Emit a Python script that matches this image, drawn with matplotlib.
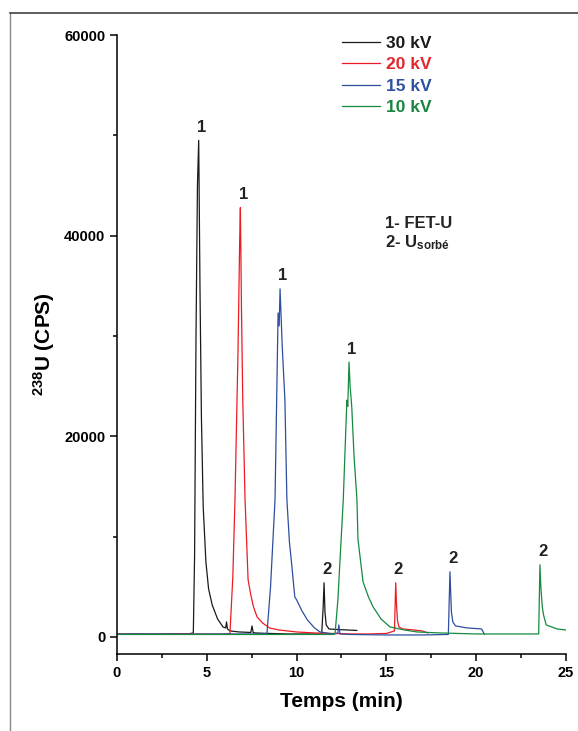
import matplotlib
matplotlib.use("Agg")
import matplotlib.pyplot as plt
from matplotlib.lines import Line2D
from matplotlib.ticker import MultipleLocator

plt.rcParams["font.family"] = ["Liberation Sans", "DejaVu Sans"]
plt.rcParams["font.weight"] = "bold"
plt.rcParams["mathtext.fontset"] = "custom"
plt.rcParams["mathtext.rm"] = "Liberation Sans:bold"
plt.rcParams["mathtext.bf"] = "Liberation Sans:bold"
plt.rcParams["mathtext.it"] = "Liberation Sans:bold"

# ---------------------------
# --- data ---
# ---------------------------
t_30kv = [0, 1, 2, 3, 4, 4.25, 4.32, 4.4, 4.48, 4.55, 4.62, 4.7, 4.8, 4.95, 5.1, 5.3,
          5.6, 5.9, 6.05, 6.1, 6.15, 6.3, 6.8, 7.45, 7.52, 7.58, 7.7, 8.5, 9.5, 10.5,
          11.4, 11.48, 11.53, 11.58, 11.65, 11.8, 12.2, 12.8, 13.35]
v_30kv = [250, 280, 260, 300, 320, 400, 8000, 30000, 45000, 49500, 35000, 22000, 13000,
          7500, 4800, 3200, 1800, 1000, 900, 1500, 800, 600, 500, 450, 1100, 450, 400,
          350, 300, 300, 300, 3000, 5400, 2500, 1200, 800, 750, 700, 650]

t_20kv = [0, 2, 4, 6, 6.29, 6.45, 6.57, 6.74, 6.83, 6.87, 6.93, 7.0, 7.13, 7.3, 7.45,
          7.6, 7.8, 8.1, 8.5, 9.0, 10, 11, 12, 13, 14, 15, 15.45, 15.52, 15.57, 15.62,
          15.7, 15.9, 16.5, 17.0, 17.3]
v_20kv = [300, 300, 300, 280, 350, 6000, 13700, 28600, 39400, 42800, 33000, 24000, 13700,
          5700, 4200, 3000, 2000, 1400, 900, 700, 500, 400, 350, 300, 300, 350, 600, 5400,
          3000, 1600, 1000, 800, 700, 600, 400]

t_15kv = [0, 2, 4, 6, 8, 8.35, 8.55, 8.8, 8.97, 9.03, 9.08, 9.2, 9.35, 9.46, 9.6, 9.74,
          9.82, 9.9, 10.0, 10.3, 10.6, 11.0, 11.3, 12.0, 12.3, 12.35, 12.42, 13, 15, 17,
          18.45, 18.54, 18.62, 18.7, 18.85, 19.5, 20.3, 20.45]
v_15kv = [300, 300, 280, 300, 300, 350, 5000, 13700, 32300, 31000, 34700, 29000, 23600,
          13700, 9500, 7000, 5500, 4000, 3700, 2600, 1700, 900, 500, 300, 400, 1200, 300,
          250, 200, 200, 250, 6500, 2500, 1500, 1100, 900, 800, 300]

t_10kv = [0, 2, 4, 6, 8, 10, 12, 12.14, 12.3, 12.6, 12.8, 12.85, 12.92, 12.98, 13.07,
          13.2, 13.36, 13.42, 13.7, 14.0, 14.26, 14.7, 15.2, 16.0, 16.7, 18, 20, 22,
          23.48, 23.55, 23.6, 23.68, 23.75, 23.9, 24.5, 25]
v_10kv = [250, 250, 250, 250, 250, 250, 250, 300, 3700, 13700, 23600, 23000, 27400, 25000,
          23000, 18000, 13700, 9700, 5500, 4000, 3000, 1800, 1000, 700, 500, 400, 300, 300,
          300, 7200, 5000, 3000, 2200, 1200, 800, 700]

series = [
    ("30 kV", t_30kv, v_30kv, "#1a1a1a"),
    ("20 kV", t_20kv, v_20kv, "#ed1c24"),
    ("15 kV", t_15kv, v_15kv, "#2e4e9e"),
    ("10 kV", t_10kv, v_10kv, "#168a3f"),
]

# peak labels: (time, height, label)
peak_labels = [
    (4.55, 49500, "1"), (6.87, 42800, "1"), (9.08, 34700, "1"), (12.92, 27400, "1"),
    (11.53, 5400, "2"), (15.52, 5400, "2"), (18.54, 6500, "2"), (23.55, 7200, "2"),
]


# ------------
# --- plot ---
# ------------
fig = plt.figure(figsize=(5.78, 7.31), dpi=100)
ax = fig.add_axes([0.2024, 0.1053, 0.7768, 0.8468])

for label, t, v, color in series:
    ax.plot(t, v, color=color, lw=0.9, label=label)

for t, v, txt in peak_labels:
    ax.annotate(txt, xy=(t, v), xytext=(2, 4), textcoords="offset points",
                ha="center", va="bottom", fontsize=12, fontweight="bold", color="#222222")

ax.text(0.597, 0.696, "1- FET-U", transform=ax.transAxes, fontsize=12, fontweight="bold",
        color="#222222", va="center")
ax.text(0.597, 0.664, r"2- U$_{\mathbf{sorbé}}$", transform=ax.transAxes, fontsize=12,
        fontweight="bold", color="#222222", va="center")

ax.set_xlim(0, 25)
ax.set_ylim(-1700, 60000)
ax.xaxis.set_major_locator(MultipleLocator(5))
ax.xaxis.set_minor_locator(MultipleLocator(2.5))
ax.yaxis.set_major_locator(MultipleLocator(20000))
ax.yaxis.set_minor_locator(MultipleLocator(10000))
ax.tick_params(which="both", direction="out", width=1.1, labelsize=10.5)
ax.tick_params(which="major", length=5)
ax.tick_params(which="minor", length=3)
for lab in ax.get_xticklabels() + ax.get_yticklabels():
    lab.set_fontweight("bold")

ax.spines["top"].set_visible(False)
ax.spines["right"].set_visible(False)
ax.spines["left"].set_linewidth(1.1)
ax.spines["bottom"].set_linewidth(1.1)

ax.set_xlabel("Temps (min)", fontsize=15, fontweight="bold", labelpad=9)
ax.set_ylabel(r"$^{\mathbf{238}}$U (CPS)", fontsize=15, fontweight="bold", labelpad=5)

leg = ax.legend(loc="upper left", bbox_to_anchor=(0.501, 0.999), frameon=False,
                fontsize=12.5, handlelength=2.2, handletextpad=0.35, labelspacing=0.36,
                borderpad=0, borderaxespad=0)
legend_colors = ["#1a1a1a", "#e3262b", "#2f52a0", "#17843f"]
for txt, c in zip(leg.get_texts(), legend_colors):
    txt.set_color(c)
    txt.set_fontweight("bold")

# thin frame around the figure (left and top edges visible)
fig.add_artist(Line2D([9.5 / 578, 9.5 / 578], [0, 1 - 12.5 / 731], transform=fig.transFigure,
                      color="#8a8a8a", lw=1.0))
fig.add_artist(Line2D([9.5 / 578, 1], [1 - 12.5 / 731, 1 - 12.5 / 731], transform=fig.transFigure,
                      color="#333333", lw=1.1))

fig.savefig("out.png", dpi=100)
